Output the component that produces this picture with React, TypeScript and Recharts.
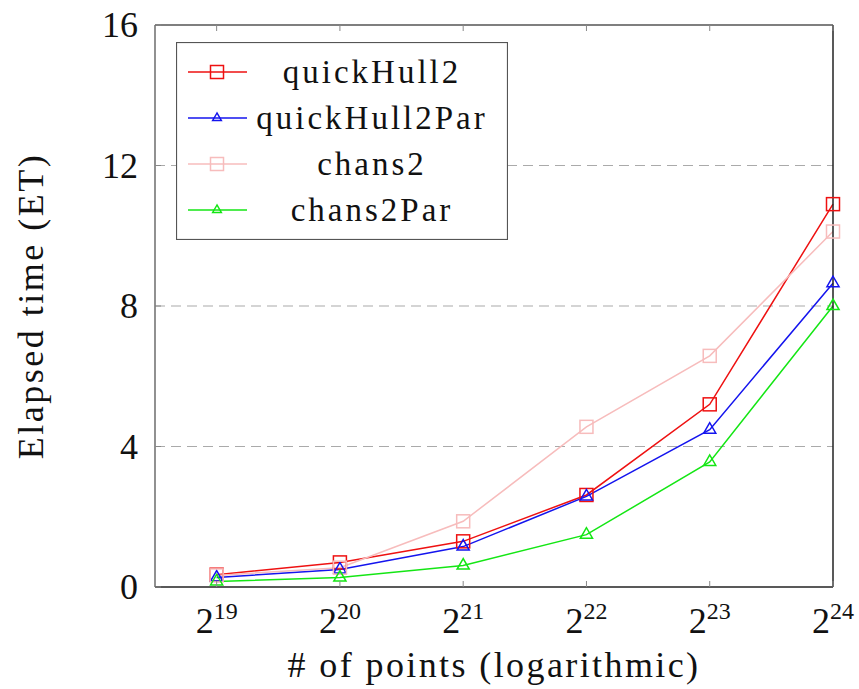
import React from "react";
import {
  LineChart,
  Line,
  XAxis,
  YAxis,
  CartesianGrid,
  Legend,
} from "recharts";

// log2 of the number of points
const EXPONENTS = [19, 20, 21, 22, 23, 24];
const QUICKHULL2 = [0.35, 0.7, 1.3, 2.62, 5.2, 10.9];
const QUICKHULL2_PAR = [0.27, 0.5, 1.15, 2.58, 4.48, 8.65];
const CHANS2 = [0.33, 0.55, 1.87, 4.56, 6.58, 10.12];
const CHANS2_PAR = [0.16, 0.27, 0.61, 1.49, 3.56, 8.0];
const Y_TICKS = [0, 4, 8, 12, 16];
const GRID_VALUES = [4, 8, 12];

const SERIES = [
  { key: "quickHull2", color: "#ee1111", marker: "square" },
  { key: "quickHull2Par", color: "#1414ee", marker: "triangle" },
  { key: "chans2", color: "#f7bcbc", marker: "square" },
  { key: "chans2Par", color: "#14e614", marker: "triangle" },
];

const data = EXPONENTS.map((exp, i) => ({
  exp,
  quickHull2: QUICKHULL2[i],
  quickHull2Par: QUICKHULL2_PAR[i],
  chans2: CHANS2[i],
  chans2Par: CHANS2_PAR[i],
}));

const FONT = "Liberation Serif, Times New Roman, serif";

const Marker = ({ cx, cy, shape, color, size = 7 }: any) => {
  if (shape === "square") {
    return (
      <rect
        x={cx - size + 0.5}
        y={cy - size + 0.5}
        width={size * 2 - 1}
        height={size * 2 - 1}
        fill="none"
        stroke={color}
        strokeWidth={1.5}
      />
    );
  }
  const h = size * 0.866;
  return (
    <polygon
      points={`${cx},${cy - size} ${cx - h},${cy + size / 2} ${cx + h},${cy + size / 2}`}
      fill="none"
      stroke={color}
      strokeWidth={1.5}
    />
  );
};

const makeDot = (shape: string, color: string, name: string) => (props: any) => {
  const { cx, cy, index } = props;
  if (cx == null || cy == null) return <g key={`${name}-${index}`} />;
  return (
    <g key={`${name}-${index}`}>
      <Marker cx={cx} cy={cy} shape={shape} color={color} />
    </g>
  );
};

const BottomTick = ({ x, y, payload }: any) => (
  <g>
    <line x1={x} x2={x} y1={y} y2={y - 6} stroke="#888" strokeWidth={1} />
    <text x={x} y={y + 46} textAnchor="middle" fontFamily={FONT} fontSize={36} fill="#111">
      2
      <tspan fontSize={24} dy={-14}>
        {payload.value}
      </tspan>
    </text>
  </g>
);

const TopTick = ({ x, y }: any) => (
  <line x1={x} x2={x} y1={y} y2={y + 6} stroke="#888" strokeWidth={1} />
);

const LeftTick = ({ x, y, payload }: any) => (
  <g>
    <line x1={x} x2={x + 6} y1={y} y2={y} stroke="#888" strokeWidth={1} />
    <text x={x - 17} y={y + 12} textAnchor="end" fontFamily={FONT} fontSize={36} fill="#111">
      {payload.value}
    </text>
  </g>
);

const RightTick = ({ x, y }: any) => (
  <line x1={x} x2={x - 6} y1={y} y2={y} stroke="#888" strokeWidth={1} />
);

const YLabel = ({ viewBox }: any) => {
  const x = viewBox.x + 43;
  const y = viewBox.y + viewBox.height / 2;
  return (
    <text
      x={x}
      y={y}
      transform={`rotate(-90, ${x}, ${y})`}
      textAnchor="middle"
      fontFamily={FONT}
      fontSize={36}
      letterSpacing={2.5}
      fill="#111"
    >
      Elapsed time (ET)
    </text>
  );
};

const XLabel = ({ viewBox }: any) => (
  <text
    x={viewBox.x + viewBox.width / 2}
    y={viewBox.y + 90}
    textAnchor="middle"
    fontFamily={FONT}
    fontSize={36}
    letterSpacing={2.4}
    fill="#111"
  >
    # of points (logarithmic)
  </text>
);

// legend drawn in the series' own order
const LegendBox = () => (
  <svg width={332} height={198} style={{ display: "block" }}>
    <rect x={0.5} y={0.5} width={331} height={197} fill="#fff" stroke="#555" strokeWidth={1.2} />
    {SERIES.map((s, i) => {
      const cy = 30 + i * 46;
      return (
        <g key={s.key}>
          <line x1={12} x2={71} y1={cy} y2={cy} stroke={s.color} strokeWidth={1.5} />
          <Marker cx={41} cy={cy} shape={s.marker} color={s.color} size={s.marker === "square" ? 7 : 5} />
          <text
            x={196}
            y={cy + 11}
            textAnchor="middle"
            fontFamily={FONT}
            fontSize={33}
            letterSpacing={3}
            fill="#111"
          >
            {s.key}
          </text>
        </g>
      );
    })}
  </svg>
);

export default function App() {
  return (
    <div style={{ position: "absolute", left: 0, top: 0, background: "#fff" }}>
      <LineChart
        width={859}
        height={689}
        data={data}
        margin={{ top: 24, right: 0, bottom: 0, left: 0 }}
      >
        <CartesianGrid
          horizontal
          vertical={false}
          horizontalValues={GRID_VALUES}
          stroke="#aaa"
          strokeDasharray="10 6"
          strokeWidth={1.2}
        />
        <XAxis
          dataKey="exp"
          type="number"
          domain={[18.5, 24]}
          ticks={EXPONENTS}
          height={102}
          tickSize={0}
          tickMargin={0}
          tickLine={false}
          axisLine={{ stroke: "#222", strokeWidth: 1.5 }}
          tick={<BottomTick />}
          label={XLabel}
          interval={0}
        />
        <XAxis
          xAxisId="top"
          dataKey="exp"
          orientation="top"
          type="number"
          domain={[18.5, 24]}
          ticks={EXPONENTS}
          height={1}
          tickSize={0}
          tickMargin={0}
          tickLine={false}
          axisLine={{ stroke: "#555", strokeWidth: 1.3 }}
          tick={<TopTick />}
          interval={0}
        />
        <YAxis
          type="number"
          domain={[0, 16]}
          ticks={Y_TICKS}
          width={155}
          tickSize={0}
          tickMargin={0}
          tickLine={false}
          axisLine={{ stroke: "#555", strokeWidth: 1.3 }}
          tick={<LeftTick />}
          label={YLabel}
          interval={0}
        />
        <YAxis
          yAxisId="right"
          orientation="right"
          type="number"
          domain={[0, 16]}
          ticks={Y_TICKS}
          width={26}
          tickSize={0}
          tickMargin={0}
          tickLine={false}
          axisLine={{ stroke: "#222", strokeWidth: 1.5 }}
          tick={<RightTick />}
          interval={0}
        />
        <Legend
          layout="vertical"
          align="center"
          verticalAlign="middle"
          wrapperStyle={{ left: 176, top: 42, width: 332, height: 198 }}
          content={<LegendBox />}
        />
        {SERIES.map((s) => (
          <Line
            key={s.key}
            type="linear"
            dataKey={s.key}
            name={s.key}
            stroke={s.color}
            strokeWidth={1.5}
            dot={makeDot(s.marker, s.color, s.key)}
            activeDot={false}
            isAnimationActive={false}
          />
        ))}
      </LineChart>
    </div>
  );
}
